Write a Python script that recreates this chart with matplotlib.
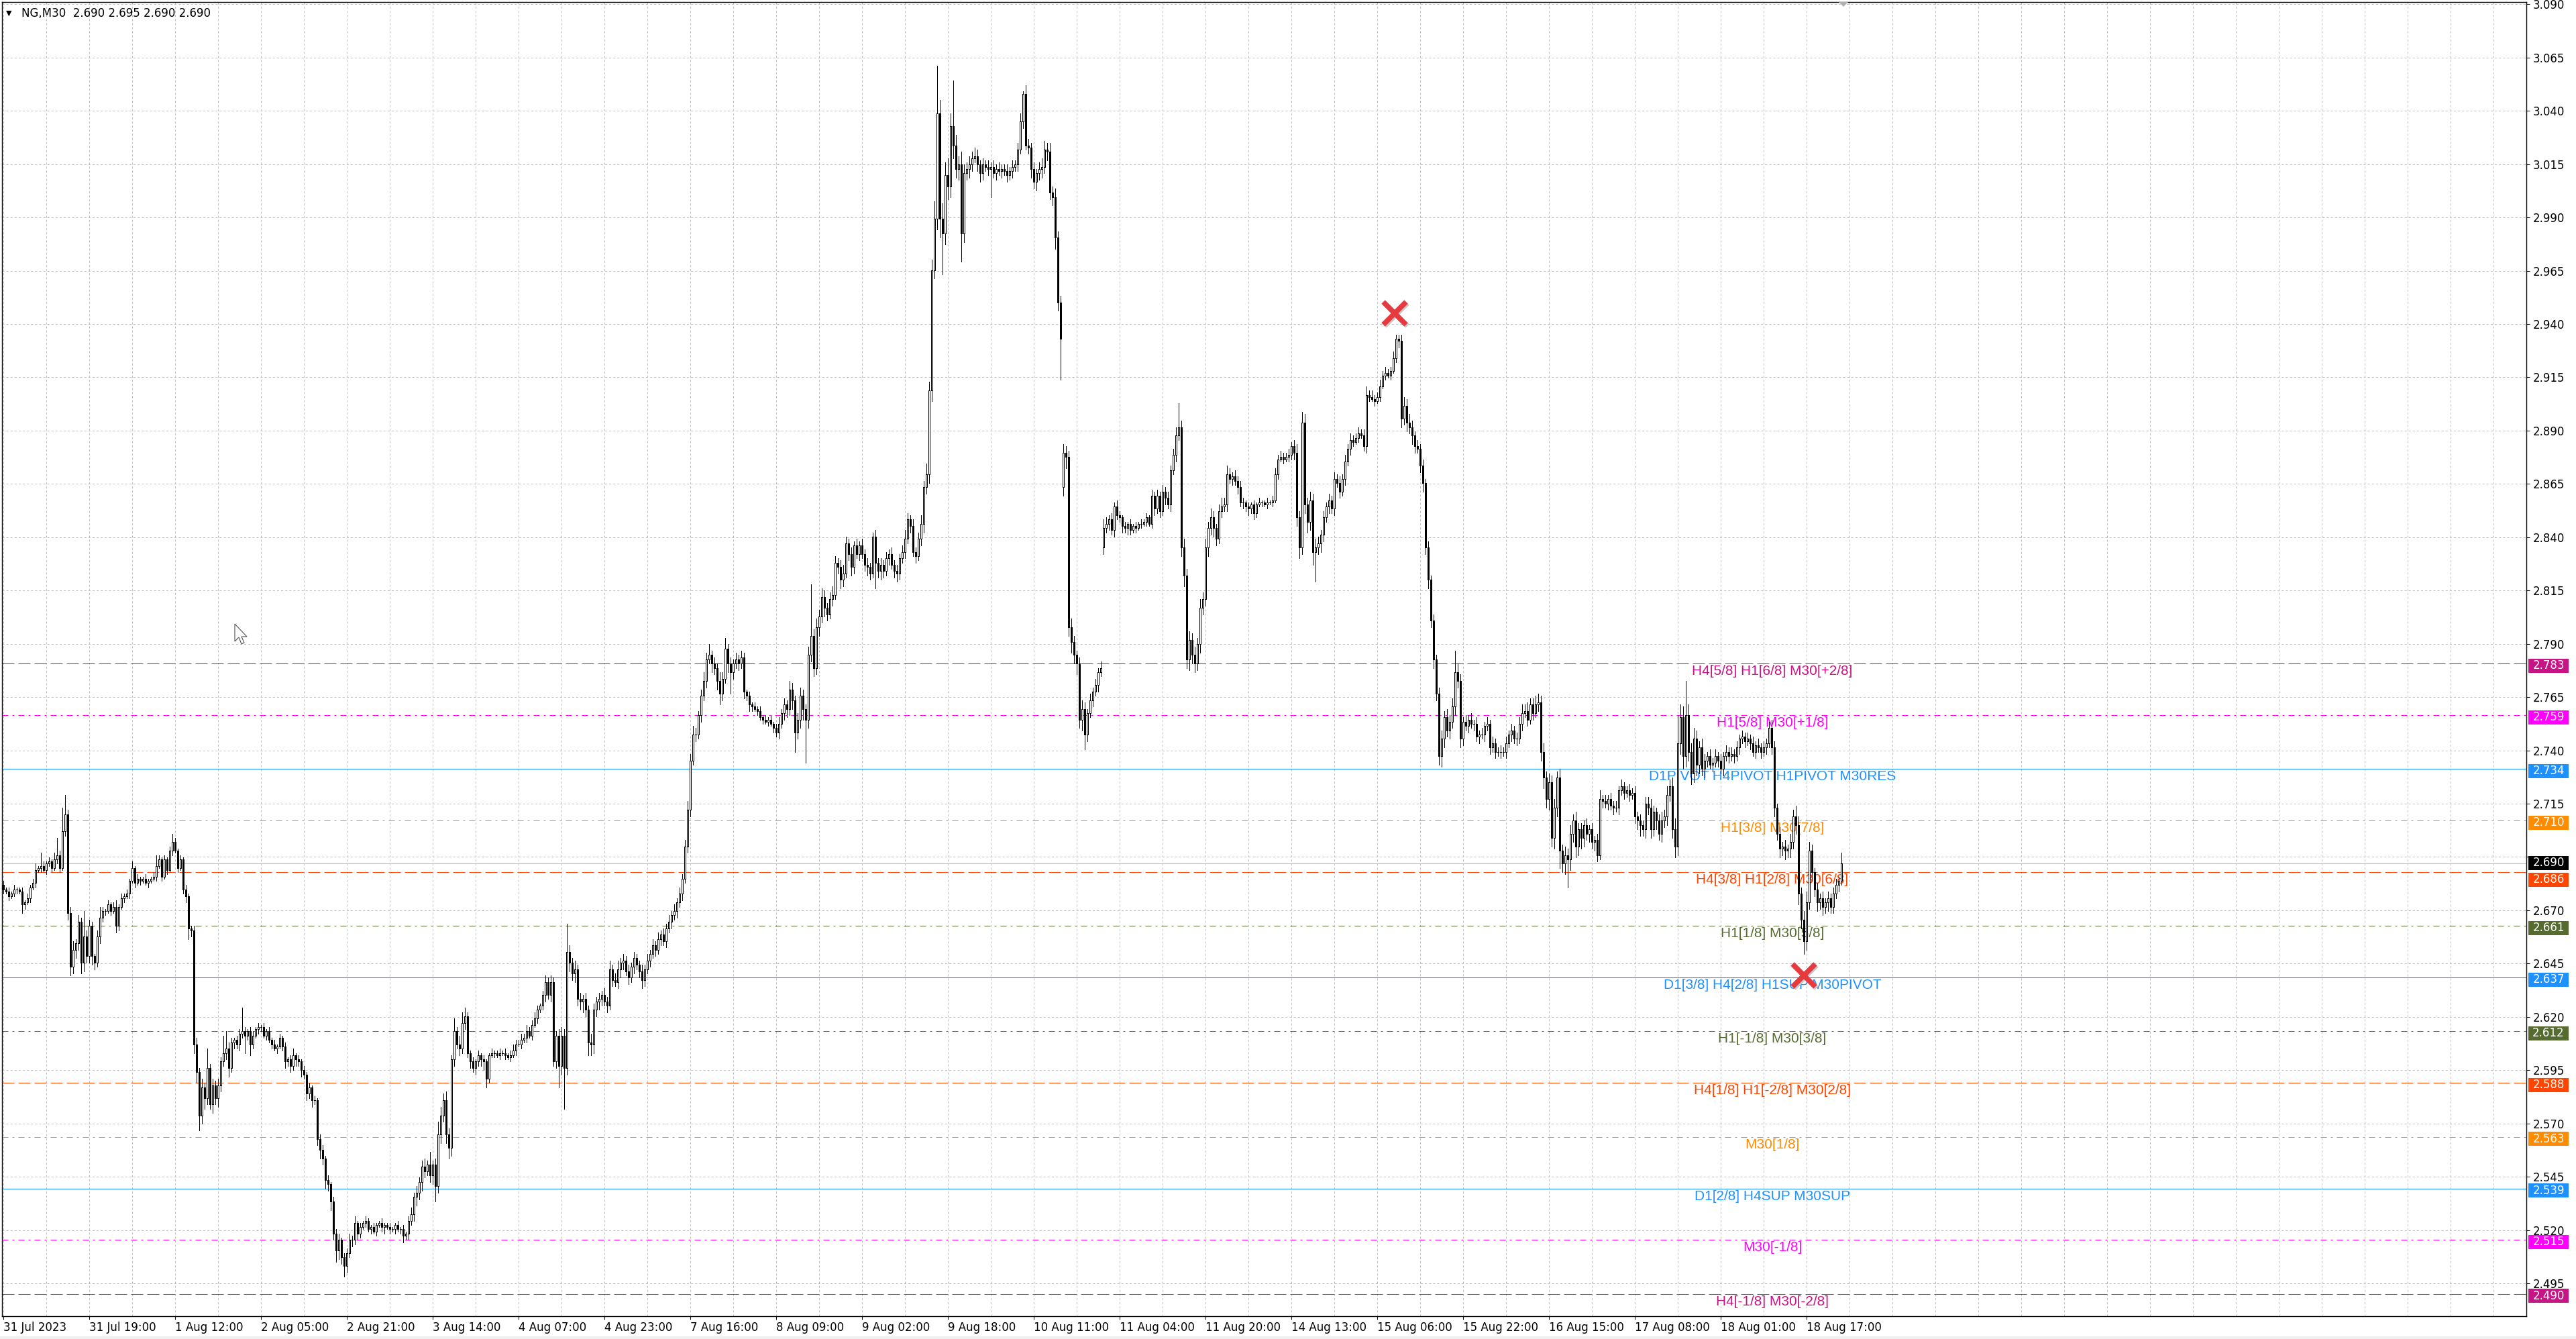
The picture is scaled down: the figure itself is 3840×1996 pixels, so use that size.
import matplotlib
matplotlib.use('Agg')
import matplotlib.pyplot as plt
from matplotlib.patches import Rectangle, Polygon
from matplotlib.transforms import blended_transform_factory, offset_copy
import numpy as np

plt.rcParams['lines.scale_dashes'] = False
plt.rcParams['font.family'] = ['DejaVu Sans']

W, H, DPI = 3840, 1996, 100

# ---------------- data ----------------
symbol_text = "NG,M30  2.690 2.695 2.690 2.690"

# M30 closes, in thousandths above 2.000 (e.g. 678 -> 2.678)
closes = [
    678,677,675,676,678,678,677,671,672,674,679,681,687,688,689,687,690,691,688,692,694,688,705,713,667,642,650,653,663,644,656,647,
    661,647,644,656,665,668,668,671,668,670,661,670,674,675,676,682,688,681,683,682,683,681,682,683,684,689,692,684,692,687,696,700,
    696,688,692,678,675,660,659,606,593,573,586,581,595,578,587,581,587,598,602,604,595,607,608,606,611,612,610,612,606,610,613,614,
    614,610,612,608,606,604,605,609,605,598,599,596,601,599,598,594,592,583,586,580,580,562,557,553,543,541,533,518,510,515,507,503,
    509,515,515,523,518,521,523,524,520,521,519,522,523,521,522,521,520,520,522,520,520,517,518,524,527,535,537,542,549,547,550,545,
    550,540,564,573,580,564,558,599,612,606,604,616,619,602,598,595,598,601,599,598,590,601,602,602,601,602,602,601,600,601,603,606,
    606,608,609,612,610,615,618,622,624,629,635,629,635,598,610,596,610,595,649,644,639,641,627,626,627,622,607,606,622,626,627,629,
    626,624,641,636,635,641,644,645,640,637,642,646,643,640,636,641,645,648,652,650,655,657,654,660,663,666,668,672,676,683,698,715,
    738,750,750,759,768,775,785,787,783,781,775,769,776,790,783,779,783,785,783,786,770,768,764,763,762,761,758,757,756,757,755,753,
    751,755,760,764,762,771,766,751,757,768,762,757,787,796,781,800,805,814,809,806,813,815,830,828,822,825,839,834,828,838,834,838,
    834,829,828,825,842,830,826,829,826,832,834,829,826,825,832,835,841,850,847,835,833,841,848,865,871,910,966,990,1039,990,983,1010,
    1005,1033,1024,1013,1015,983,1011,1013,1015,1018,1019,1015,1011,1015,1014,1013,1014,1011,1013,1012,1013,1012,1010,1012,1014,1015,1022,1035,1048,1024,1023,1013,
    1007,1011,1013,1014,1022,1021,1002,1000,981,951,934,881,879,800,793,787,783,757,762,750,760,766,770,773,779,781,846,848,850,845,856,852,
    851,847,846,848,845,847,846,848,848,849,851,848,861,855,861,854,863,860,857,873,880,889,893,837,824,785,794,787,783,792,809,813,
    837,846,851,846,841,854,856,857,871,869,870,868,865,858,858,856,855,857,853,857,858,858,857,858,858,859,871,878,879,878,879,880,
    884,881,851,837,895,857,849,859,835,837,839,843,851,856,859,855,869,867,863,869,877,883,887,886,888,890,889,884,908,907,906,905,
    907,912,917,918,917,919,925,934,933,897,903,895,893,889,884,883,875,867,837,822,803,785,769,740,748,758,752,756,763,779,775,748,
    756,754,757,755,755,749,750,750,754,755,744,746,742,742,742,742,746,750,752,748,748,755,760,761,757,764,760,764,765,742,730,720,
    728,702,716,730,696,690,694,692,704,710,698,706,702,708,704,706,700,701,694,720,719,718,720,717,716,716,724,726,723,724,722,723,
    712,710,708,706,718,716,706,714,710,704,710,712,722,726,706,698,746,758,740,759,742,732,748,736,744,734,738,740,736,737,740,738,
    734,740,742,740,741,740,744,748,749,747,748,746,742,745,744,742,744,746,753,744,716,704,697,698,696,697,700,712,708,676,664,654,
    672,696,686,678,672,674,670,672,674,670,676,680,682,690,
]
open_overrides = {0: 680, 395: 865, 410: 837}

# upper / lower wick lengths in thousandths
wick_up = [
    2,1,2,1,2,1,1,2,1,2,1,2,3,1,6,2,1,2,1,3,8,2,11,9,2,3,4,2,3,2,12,3,
    3,2,1,3,5,2,1,2,1,2,3,1,2,1,2,1,3,1,2,1,1,2,1,1,2,5,2,1,2,1,2,4,
    2,1,2,1,2,1,1,2,3,2,4,2,9,2,3,2,3,2,8,8,3,2,1,2,2,11,2,1,2,2,1,2,
    1,2,1,2,1,2,1,2,1,2,1,2,3,1,2,1,2,1,2,1,2,1,2,2,1,2,1,2,2,3,1,2,
    2,3,2,3,1,2,1,2,1,1,2,1,1,2,1,1,2,1,1,2,1,2,1,2,3,2,3,2,3,4,2,6,
    2,3,6,4,3,4,3,2,6,2,4,5,4,2,1,2,1,2,1,2,1,1,2,1,1,2,1,2,1,2,3,2,
    2,3,2,3,2,2,3,2,1,2,3,2,3,2,2,3,4,3,13,3,2,4,2,3,2,3,2,4,3,2,3,2,
    3,2,4,2,3,4,2,3,2,3,2,3,2,2,3,2,3,2,3,2,3,2,3,2,3,2,3,2,3,2,3,4,
    3,4,3,2,3,4,3,5,2,3,2,4,3,5,2,3,2,3,2,3,2,1,2,1,2,1,2,1,2,1,2,1,
    2,3,2,3,2,4,3,2,3,4,3,2,4,24,3,4,3,4,3,2,3,4,3,2,3,4,3,2,3,2,3,2,
    3,2,3,2,2,3,2,3,2,3,2,3,2,3,2,3,4,3,2,3,2,3,4,3,5,4,5,8,22,6,7,6,
    8,6,21,5,4,6,4,3,4,3,4,3,2,3,2,3,2,3,2,3,2,2,3,2,3,2,3,4,1,4,3,2,
    3,2,3,4,4,3,4,3,4,3,3,4,3,3,4,3,2,3,4,3,2,3,2,3,2,3,4,3,2,3,2,3,
    2,1,2,1,2,1,2,1,2,1,2,1,3,2,3,2,3,2,3,2,3,4,11,3,4,3,4,3,4,3,4,3,
    4,3,4,3,2,3,4,3,4,3,2,3,2,3,2,1,2,1,2,1,2,1,1,2,1,2,3,2,3,2,2,3,
    2,3,4,3,5,4,3,4,3,4,3,2,3,2,3,2,3,2,3,2,3,2,3,2,2,3,2,3,4,2,3,2,
    2,3,2,3,2,2,3,2,2,3,4,3,4,3,2,3,2,3,2,3,2,3,2,3,4,3,4,3,4,10,4,3,
    2,3,2,3,2,3,2,3,2,3,2,3,2,2,3,2,3,2,3,2,3,3,4,3,4,3,3,4,4,3,4,3,
    4,3,4,3,4,3,4,3,4,3,4,3,3,2,3,2,3,2,3,4,2,3,2,3,2,3,2,3,2,2,3,2,
    3,2,3,2,3,3,4,3,2,3,4,3,4,3,4,5,13,6,5,16,5,4,5,4,3,4,3,2,3,2,3,2,
    3,2,3,2,3,2,3,2,3,2,3,2,3,2,3,2,3,2,3,4,3,2,3,2,3,2,4,3,5,4,3,4,
    5,4,3,2,3,2,3,2,3,2,3,3,2,5,
]
wick_dn = [
    2,1,2,1,1,2,1,4,2,1,2,1,2,1,2,1,2,1,2,1,2,2,1,2,3,4,3,4,3,5,4,3,
    3,4,3,2,3,2,2,1,2,1,3,2,1,2,1,2,1,2,1,2,1,1,2,1,1,2,1,2,1,2,1,2,
    1,2,1,2,3,5,3,4,5,7,4,5,3,2,4,3,4,3,2,3,4,2,3,2,3,2,8,2,5,2,1,2,
    2,1,2,1,2,1,2,1,2,3,2,3,2,3,2,3,2,3,2,3,2,3,4,3,4,3,4,3,5,4,3,5,
    3,2,3,2,3,2,1,2,1,2,1,2,1,2,3,1,2,1,2,1,2,3,2,3,2,3,4,3,4,3,2,3,
    4,7,3,4,3,4,5,4,3,2,3,2,3,2,3,2,3,2,3,4,4,2,1,2,1,2,1,2,1,2,1,2,
    1,2,1,2,1,2,1,2,1,2,3,2,3,2,3,10,4,19,3,4,3,4,3,4,5,3,6,5,4,3,4,3,
    2,3,2,3,2,3,4,3,2,3,2,3,2,3,4,3,2,3,2,3,2,3,2,3,2,3,2,3,2,3,2,3,
    3,2,3,2,3,2,3,2,4,3,4,5,3,2,4,10,3,2,3,2,3,2,3,2,1,2,1,2,1,2,1,2,
    2,3,2,3,4,3,4,9,3,4,5,20,4,3,4,3,4,3,4,3,2,3,2,3,4,3,2,3,4,3,2,3,
    2,3,4,3,2,12,3,4,3,2,3,2,3,4,3,2,3,2,3,2,3,2,3,4,3,4,5,4,5,9,19,5,
    6,5,6,4,5,13,4,3,4,3,2,3,4,3,2,3,13,2,3,2,3,2,3,2,3,2,3,2,3,2,3,4,
    3,4,3,4,3,4,3,4,5,4,19,4,5,4,5,4,5,4,5,7,3,2,3,2,3,2,3,2,3,2,3,2,
    2,3,2,3,2,1,2,1,2,1,2,1,2,3,2,3,2,3,2,3,2,3,2,4,5,4,5,4,4,3,4,3,
    3,4,3,4,3,2,3,2,3,2,3,2,3,2,3,2,3,2,3,2,1,2,1,2,1,2,1,2,1,2,1,2,
    2,3,4,5,3,4,5,4,6,14,3,4,3,2,3,2,3,2,3,2,3,2,3,2,1,2,1,2,3,2,1,2,
    1,2,1,2,1,2,1,2,3,4,3,4,3,4,3,2,3,4,3,4,3,4,3,4,5,4,3,4,3,4,3,4,
    3,2,3,2,3,2,3,2,3,2,3,2,3,2,3,2,3,2,3,2,3,2,3,2,3,2,3,2,3,4,5,4,
    5,4,5,4,8,4,5,13,5,4,5,4,5,4,3,4,3,4,3,2,3,2,3,2,3,2,3,2,3,2,3,2,
    3,4,5,3,4,3,4,3,4,3,4,3,4,3,4,5,4,5,6,5,4,5,4,5,4,3,4,3,2,3,2,3,
    2,3,2,3,2,3,2,3,2,3,2,3,2,3,2,3,2,3,2,3,4,3,4,3,4,3,4,3,4,5,4,6,
    4,3,4,3,4,3,4,3,4,3,3,2,3,2,
]

x_tick_labels = ["31 Jul 2023", "31 Jul 19:00", "1 Aug 12:00", "2 Aug 05:00", "2 Aug 21:00",
                 "3 Aug 14:00", "4 Aug 07:00", "4 Aug 23:00", "7 Aug 16:00", "8 Aug 09:00",
                 "9 Aug 02:00", "9 Aug 18:00", "10 Aug 11:00", "11 Aug 04:00", "11 Aug 20:00",
                 "14 Aug 13:00", "15 Aug 06:00", "15 Aug 22:00", "16 Aug 15:00", "17 Aug 08:00",
                 "18 Aug 01:00", "18 Aug 17:00"]
# the 17th scale label sits under the current-price box, so it is left blank (as in the terminal)
y_tick_labels = ["3.090", "3.065", "3.040", "3.015", "2.990", "2.965", "2.940", "2.915", "2.890",
                 "2.865", "2.840", "2.815", "2.790", "2.765", "2.740", "2.715", "", "2.670",
                 "2.645", "2.620", "2.595", "2.570", "2.545", "2.520", "2.495"]
grid_top_price = 3.0896
grid_step_price = 0.02478

level_prices = [2.783, 2.759, 2.734, 2.710, 2.686, 2.661, 2.637, 2.612, 2.588, 2.563, 2.539, 2.515, 2.490]
level_texts = ["H4[5/8] H1[6/8] M30[+2/8]", "H1[5/8] M30[+1/8]", "D1PIVOT H4PIVOT H1PIVOT M30RES",
               "H1[3/8] M30[7/8]", "H4[3/8] H1[2/8] M30[6/8]", "H1[1/8] M30[5/8]",
               "D1[3/8] H4[2/8] H1SUP M30PIVOT", "H1[-1/8] M30[3/8]", "H4[1/8] H1[-2/8] M30[2/8]",
               "M30[1/8]", "D1[2/8] H4SUP M30SUP", "M30[-1/8]", "H4[-1/8] M30[-2/8]"]
level_colors = ["#C71585", "#FF00FF", "#1E90FF", "#FF8C00", "#FF4500", "#556B2F", "#1E90FF",
                "#556B2F", "#FF4500", "#FF8C00", "#1E90FF", "#FF00FF", "#C71585"]
level_styles = ["dash", "dashdot", "solid", "dashdot", "dash", "dashdot", "solid",
                "dashdot", "dash", "dashdot", "solid", "dashdot", "dash"]
bid_price = 2.690
marker_bars = [518.5, 671]
marker_prices = [2.946, 2.638]

# ---------------- geometry helpers ----------------
PX_PER_PRICE = 3206.0
def fx(px): return px / W
def fy(py): return 1 - py / H

fig = plt.figure(figsize=(W / DPI, H / DPI), dpi=DPI)
fig.patch.set_facecolor('white')
ax_l, ax_r, ax_t, ax_b = 3, 3766, 3, 1962
ax = fig.add_axes([fx(ax_l), fy(ax_b), fx(ax_r) - fx(ax_l), fy(ax_t) - fy(ax_b)])
ax.set_facecolor('white')
ax.set_xlim(-0.5, 940.25)
ax.set_ylim(grid_top_price - (ax_b - 6.3) / PX_PER_PRICE, grid_top_price + (6.3 - ax_t) / PX_PER_PRICE)

# ---------------- grid ----------------
grid_prices = [grid_top_price - k * grid_step_price for k in range(len(y_tick_labels))]
for gp in grid_prices:
    ax.axhline(gp, color='#C0C0C0', lw=0.72, linestyle=(0, (2.2, 2.2)), zorder=0.5)
for gx in range(0, 941, 16):
    ax.axvline(gx, color='#C0C0C0', lw=0.72, linestyle=(0, (2.2, 2.2)), zorder=0.5)

# ---------------- levels ----------------
dash_map = {"dash": (0, (12.96, 4.32)), "dashdot": (0, (6.48, 4.32, 2.16, 4.32)), "solid": "-"}
text_x_bar = (2642 - 5) / 4.0
for p, t, col, st in zip(level_prices, level_texts, level_colors, level_styles):
    ax.axhline(p, color=col, lw=0.75, linestyle=dash_map[st], zorder=1.5)
    ax.text(text_x_bar, p - 2 / PX_PER_PRICE, t, ha='center', va='top', color=col,
            fontsize=15, family=['Liberation Sans', 'DejaVu Sans'], zorder=1.6)
ax.axhline(bid_price, color='#C0C0C0', lw=0.75, zorder=1.4)

# ---------------- candles ----------------
c = np.array(closes, dtype=float) / 1000 + 2
n = len(c)
assert n == 686 and len(wick_up) == n and len(wick_dn) == n, (n, len(wick_up), len(wick_dn))
o = np.empty(n)
o[1:] = c[:-1]
for k, v in open_overrides.items():
    o[k] = v / 1000 + 2
hi = np.maximum(o, c) + np.array(wick_up) / 1000
lo = np.minimum(o, c) - np.array(wick_dn) / 1000
xs = np.arange(n)
LW = 0.7
ax.vlines(xs, lo, hi, colors='black', linewidth=LW, zorder=3, antialiased=False)
bull = c > o
bear = c < o
doji = c == o
ax.bar(xs[bull], (c - o)[bull], bottom=o[bull], width=0.5, facecolor='white',
       edgecolor='black', linewidth=LW, zorder=4, antialiased=False)
ax.bar(xs[bear], (o - c)[bear], bottom=c[bear], width=0.5, facecolor='black',
       edgecolor='black', linewidth=LW, zorder=4, antialiased=False)
ax.hlines(c[doji], xs[doji] - 0.3, xs[doji] + 0.3, colors='black', linewidth=LW,
          zorder=4, antialiased=False)

# ---------------- markers ----------------
shadow = offset_copy(ax.transData, fig=fig, x=2, y=-2, units='dots')
ax.plot(marker_bars, marker_prices, 'x', ms=25, mew=5.5, color='#C8C8C8', transform=shadow, zorder=6)
ax.plot(marker_bars, marker_prices, 'x', ms=25, mew=5.5, color='#E63A3F', zorder=7)

# ---------------- axes ----------------
for s in ax.spines.values():
    s.set_color('black')
    s.set_linewidth(1.0)
ax.yaxis.tick_right()
ax.set_yticks(grid_prices)
ax.set_yticklabels(y_tick_labels)
ax.tick_params(axis='y', direction='out', length=3.6, width=0.75, pad=3.6, labelsize=12,
               colors='black', right=True, left=False, labelright=True, labelleft=False)
ax.set_xticks(list(range(0, 32 * len(x_tick_labels), 32)))
ax.set_xticklabels(x_tick_labels)
for lbl in ax.get_xticklabels():
    lbl.set_ha('left')
ax.tick_params(axis='x', direction='out', length=3.6, width=0.75, pad=2.5, labelsize=12, colors='black')

# price boxes on the right scale
bt = blended_transform_factory(ax.transAxes, ax.transData)
axw = ax_r - ax_l
box_x0 = (3769 - ax_l) / axw
box_w = 60 / axw
box_h = 21 / PX_PER_PRICE
box_shift = 3 / PX_PER_PRICE
for p, col in zip(level_prices, level_colors):
    yc = p - box_shift
    if abs(p - 2.686) < 1e-9:
        yc -= 8 / PX_PER_PRICE
    ax.add_patch(Rectangle((box_x0, yc - box_h / 2), box_w, box_h, transform=bt,
                           facecolor=col, edgecolor='none', clip_on=False, zorder=10))
    ax.text(box_x0 + box_w / 2, yc, f"{p:.3f}", transform=bt, ha='center', va='center',
            color='white', fontsize=12, zorder=11, clip_on=False)
ax.add_patch(Rectangle((box_x0, bid_price + 1 / PX_PER_PRICE - box_h / 2), box_w, box_h, transform=bt,
                       facecolor='black', edgecolor='none', clip_on=False, zorder=12))
ax.text(box_x0 + box_w / 2, bid_price + 1 / PX_PER_PRICE, f"{bid_price:.3f}", transform=bt,
        ha='center', va='center', color='white', fontsize=12, zorder=13, clip_on=False)

# ---------------- header & decorations ----------------
fig.text(fx(9), fy(20), "\u25BC", fontsize=8, va='center', ha='left', color='black')
fig.text(fx(32), fy(20), symbol_text, fontsize=12, va='center', ha='left', color='black')

# chart-shift triangle at top
fig.patches.append(Polygon([(fx(2741), fy(3)), (fx(2755), fy(3)), (fx(2748), fy(10))], closed=True,
                           facecolor='#B0B0B0', edgecolor='none', transform=fig.transFigure, zorder=20))
# mouse cursor
cx, cy = 350, 930
cur = [(0, 0), (0, 26), (6, 20), (10, 30), (14, 28), (10, 19), (18, 19)]
fig.patches.append(Polygon([(fx(cx + a), fy(cy + b)) for a, b in cur], closed=True, facecolor='white',
                           edgecolor='#606060', linewidth=0.9, transform=fig.transFigure, zorder=20))
# bottom strip
fig.patches.append(Rectangle((0, 0), 1, 4 / H, transform=fig.transFigure, facecolor='#F0F0F0',
                             edgecolor='none', zorder=0))

fig.savefig('out.png', dpi=DPI, facecolor='white')
